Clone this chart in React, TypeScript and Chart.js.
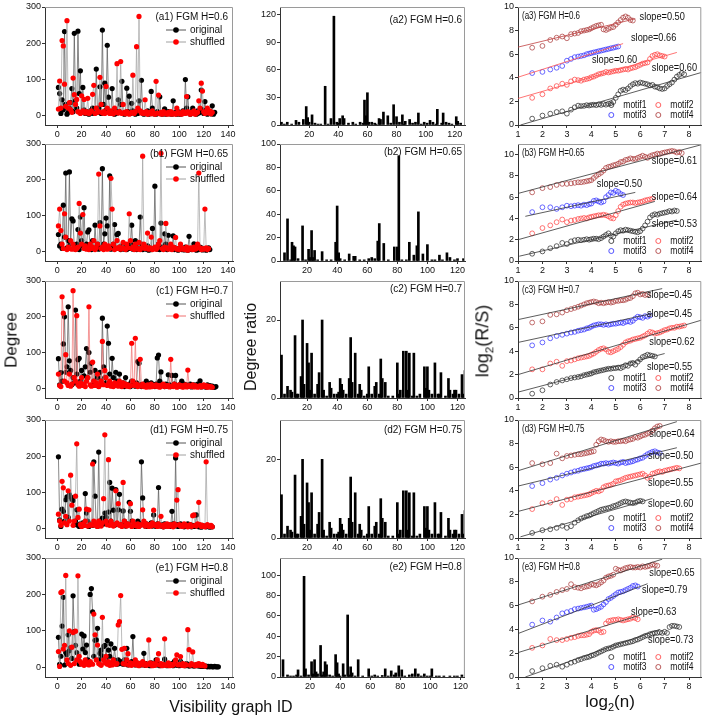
import React, { useEffect, useRef } from "react";
import { Chart, registerables } from "chart.js";
Chart.register(...registerables);

// ---------------- DATA ----------------
// Column 1: degree of each visibility-graph node (ID = index + 1)
const A1_ORIGINAL = [77,60,5,43,15,232,30,3,8,20, 35,74,10,227,40,20,233,60,123,8, 77,15,5,10,8,3,12,6,20,5, 10,128,8,20,79,5,236,30,89,15, 194,50,10,5,74,8,3,12,6,43, 10,30,94,5,3,8,75,10,53,5, 33,12,6,3,8,5,40,10,97,6, 3,8,5,12,3,6,66,20,4,8, 3,10,5,51,6,3,8,18,3,5, 10,4,6,3,40,5,8,3,10,4, 3,6,12,8,99,20,51,6,3,10, 20,5,8,3,12,6,10,70,15,5, 38,8,3,10,6,4,26,3,8];
const A1_SHUFFLED = [17,95,20,207,192,86,25,262,20,35, 15,8,103,57,30,44,10,8,5,54, 12,44,6,10,47,5,8,12,58,83, 5,20,8,10,105,30,6,10,5,80, 20,8,5,12,6,4,20,8,143,6, 10,149,5,30,8,4,10,5,3,6, 8,111,5,10,190,20,274,12,6,8, 5,43,10,3,6,8,4,12,5,3, 94,6,56,4,8,3,10,5,6,3, 8,4,10,3,6,5,3,20,8,4, 6,3,10,8,5,52,10,6,3,8, 5,12,3,6,8,40,20,89,67,10, 5,8,20,6,12,4,8];
const B1_ORIGINAL = [47,15,20,8,129,40,219,10,30,222, 20,91,85,10,6,20,61,5,96,30, 15,122,8,20,54,60,10,5,30,8, 73,12,20,6,80,10,231,20,49,93, 71,12,211,6,10,20,75,8,47,50, 12,5,8,20,6,10,5,12,8,20, 73,6,10,30,5,8,12,96,20,5, 8,12,6,15,3,10,5,64,8,182, 10,6,20,5,79,12,8,49,20,5, 45,8,12,6,43,5,10,8,3,6, 10,5,8,4,12,6,3,42,8,5, 10,21,6,3,8,5,12,10,4,6, 8,3,5,10,5];
const B1_SHUFFLED = [71,118,58,20,8,105,40,5,12,8, 30,6,20,10,5,8,12,134,51,20, 103,8,15,6,10,5,20,8,12,30, 5,10,20,216,71,8,12,5,20,10, 6,15,8,204,118,20,5,10,30,8, 12,6,10,25,8,5,20,10,105,30, 8,12,5,20,10,6,25,5,10,266, 20,8,12,51,6,10,40,5,8,12, 6,10,20,30,274,8,5,12,78,10, 6,8,20,5,12,10,39,6,8,5, 20,10,6,8,5,12,3,6,10,8, 5,12,6,8,20,219,10,5,8,6, 118,10,5,8];
const C1_ORIGINAL = [83,10,44,20,124,200,45,60,228,77, 50,10,30,15,219,40,80,84,20,50, 10,35,60,111,30,100,45,70,8,20, 50,12,30,6,45,20,196,60,30,15, 174,126,40,10,84,30,12,45,20,8, 40,12,6,15,5,30,10,8,12,5, 20,8,10,6,15,75,70,10,5,8, 12,6,20,10,5,8,15,6,10,5, 12,85,93,20,46,8,10,5,12,6, 38,10,5,36,8,12,36,6,5,10, 8,20,5,12,6,10,5,8,12,4, 6,10,5,8,12,6,21,4,8,5, 6,3,10,5,8,4,6,3,3,5];
const C1_SHUFFLED = [40,8,5,256,210,20,94,15,8,40, 6,12,273,30,20,203,10,6,15,30, 8,12,5,20,30,228,10,6,73,20, 8,15,40,5,10,20,131,10,50,30, 8,12,20,6,10,5,15,8,12,6, 20,10,5,15,8,12,6,10,5,8, 126,20,8,140,12,5,8,81,6,12, 5,8,3,10,6,4,12,5,8,6, 10,5,8,3,6,10,12,5,8,6, 8,4,81,6,5,12,8,3,6,10, 5,8,3,6,10,4,51,8,5,6, 10,4,8,6,3,5,8,4,6,10, 5,8,3,6,4,5,3];
const D1_ORIGINAL = [198,23,5,53,47,20,79,87,30,93, 87,81,77,10,20,51,8,5,12,6, 15,8,96,42,20,5,10,12,8,184, 89,10,5,211,20,8,28,12,42,30, 15,45,127,20,111,50,8,107,12,51, 94,10,8,48,20,6,12,10,72,47, 20,12,8,5,10,20,6,12,184,84, 10,6,12,5,10,8,15,6,37,10, 5,12,113,8,6,10,4,12,6,8, 10,5,8,47,12,6,195,10,5,8, 12,6,10,4,8,5,12,6,10,4, 8,5,6,37,10,4,6,3,8,5, 6,4,8,5,3,6,4];
const D1_SHUFFLED = [39,20,8,130,112,15,33,10,104,20, 147,64,8,20,89,234,30,53,10,5, 12,8,20,53,6,51,10,8,178,20, 8,12,5,20,10,6,15,82,259,20, 10,190,8,20,12,6,10,104,15,68, 8,10,5,127,20,8,6,12,10,68, 5,20,8,10,6,12,5,8,10,51, 20,6,12,8,5,10,6,15,50,8, 10,5,12,6,33,8,4,10,6,12, 5,8,10,6,4,12,8,78,107,10, 6,8,5,12,10,6,4,8,10,5, 35,37,8,6,12,72,10,5,8,6, 4,184,10,6,5,8,4];
const E1_ORIGINAL = [82,8,30,113,192,6,40,35,89,45, 54,24,196,98,60,40,20,8,12,91, 50,86,40,61,20,10,200,216,152,30, 74,75,107,20,38,47,30,57,60,20, 73,47,30,64,12,20,52,17,8,20, 10,15,12,8,20,10,52,6,12,8, 15,84,10,6,12,8,5,10,6,8, 38,5,10,6,8,4,12,6,5,8, 20,6,10,4,8,5,6,22,10,4, 8,5,6,10,4,16,8,5,6,4, 16,8,5,6,4,10,5,3,6,4, 5,3,6,4,8,3,5,2,4,3, 2,3,1,2,1,2,1,1,2,1,1,1];
const E1_SHUFFLED = [43,2,205,208,50,60,252,20,10,100, 5,55,95,10,99,20,251,30,15,8, 10,5,20,8,12,6,15,10,8,146, 89,20,61,10,8,5,137,20,12,30, 8,15,5,10,6,20,12,8,10,116, 125,197,49,10,52,8,20,37,6,12, 5,10,8,20,6,12,4,10,8,15, 6,10,5,8,75,12,6,4,10,5, 8,20,37,6,10,4,8,78,5,6, 12,4,8,5,6,10,20,34,6,8, 29,5,10,4,8,6,103,48,5,10, 42,6,4,8,5,10,6,4,8,5, 3];

// Column 2: degree ratio bars (ID, ratio)
const A2_ID = [1,3,5,8,11,13,16,18,19,20,22,24,26,28,31,33,35,37,39,40,41,43,44,47,50,52,55,57,58,59,60,61,63,65,66,68,69,71,74,76,78,80,82,84,85,86,89,91,93,95,97,99,101,103,105,107,108,111,112,114,116,118,121,122,124];
const A2_RATIO = [3,1,3,1,5,3,6,20,8,3,11,2,1,1,42,1,7,118,3,2,7,10,7,2,3,1,3,2,27,10,35,3,3,2,1,7,6,14,10,2,22,9,3,11,1,4,6,2,3,13,1,3,2,5,3,1,17,2,13,3,2,1,9,4,2];
const B2_ID = [5,7,9,10,11,12,14,17,19,21,22,23,24,25,27,30,33,36,39,40,41,42,45,48,51,52,55,58,61,63,65,67,68,71,74,78,80,81,83,86,88,91,93,94,97,100,103,105,108,110,113,115,118,120,124];
const B2_RATIO = [7,36,1,16,13,12,2,30,1,10,3,26,3,9,1,8,1,1,16,47,7,2,1,6,4,4,1,1,2,3,2,17,32,15,1,12,12,90,1,1,16,5,13,42,6,14,1,1,5,1,7,3,1,2,2];
const C2_ID = [3,5,7,9,10,12,13,14,16,17,18,20,21,22,23,25,27,28,30,31,33,35,36,38,40,41,42,43,44,46,48,49,50,52,54,55,56,58,60,61,63,65,66,68,69,70,72,74,77,80,81,82,84,86,87,88,90,91,93,95,98,99,100,101,103,105,107,108,109,112,114,115,117,118,119,121,123,124,125];
const C2_RATIO = [11,1,3,2,1.5,16,1,1,5.5,20,3.5,14,9,2,11.5,1,3.5,6.5,20,2,0.5,4,2.5,1,1,1.5,5,3.5,2,1,5,15.5,4,11.5,1,3.5,2,0.5,1,8,1,3,4,1,10,5,4,0.5,0.5,9,1,2,12,12,2,11.5,0.5,11.5,0.5,1,8,2.5,8,2,1,9,1,1,6.5,0.5,5,2,1,2,2,1,6,1,7];
const D2_ID = C2_ID;
const D2_RATIO = C2_RATIO;
const E2_ID = [2,5,7,9,11,12,14,16,17,19,21,22,23,24,25,27,28,29,30,31,33,35,37,38,39,40,42,43,45,46,47,48,50,52,55,59,61,63,65,68,70,72,74,76,77,79,81,83,86,88,90,92,94,96,98,100,101,104,106,109,113,116,118,121];
const E2_RATIO = [17,2,1,1,2,7,1,99,8,2,15,3,17,5,3,31,2,5,15,12,2,1,22,14,3,1,13,2,61,2,10,4,1,17,1,8,1,2,1,1.5,8,1,6,2,4,11,7,1,2,3,8,3,1,3,1,1,8,1,1,1,1,1,1,2];

// Column 3: log2(n) grid and log2(R/S) of each motif
const G = [1.58,2,2.32,2.58,2.81,3,3.17,3.32,3.46,3.58,3.7,3.81,3.91,4,4.1,4.2,4.3,4.4,4.5,4.6,4.7,4.8,4.9,5,5.1,5.2,5.3,5.4,5.5,5.6,5.7,5.8,5.9,6,6.1,6.2,6.3,6.4,6.5,6.6,6.7,6.8,6.9,7,7.1,7.2,7.3,7.4,7.5,7.6,7.7,7.8];
const A3_M1 = [0.54,0.8,0.96,1.1,1.16,0.96,1.3,1.5,1.64,1.6,1.62,1.68,1.65, 1.7,1.72,1.68,1.75,1.7,1.78,1.72,1.8,1.85,1.95, 2.3,2.6,2.9,3.0,2.95,3.1,3.3,3.45,3.55,3.5, 3.6,3.55,3.5,3.45,3.35,3.4,3.25,3.2,3.1,3.05, 3.1,3.3,3.45,3.6,3.85,4.1,4.25,4.4,4.3];
const A3_M2 = [2.3,2.6,3.1,3.3,3.5,3.4,3.7,3.85,3.8,3.75,3.85,3.9,3.95, 4.05,4.1,4.2,4.3,4.35,4.4,4.5,4.45,4.5,4.55, 4.6,4.6,4.65,4.7,4.75,4.7,4.8,4.85,4.9,5.0, 5.1,5.2,5.25,5.3,5.6,5.85,5.95,6.0,5.9,5.85, 5.8];
const A3_M3 = [4.4,4.5,4.7,4.85,5.0,5.45,5.6,5.75,5.8,5.85,5.9,6.0,6.05, 6.1,6.15,6.2,6.25,6.3,6.35,6.4,6.45,6.5,6.55, 6.6,6.65];
const A3_M4 = [6.55,6.7,7.2,7.4,7.5,7.35,7.7,7.75,7.8,7.95,8.0,8.05,8.1, 8.2,8.3,8.4,8.45,8.5,8.1,8.05,8.15,8.25,8.3, 8.5,8.7,8.9,9.1,9.2,9.1,8.9,8.85];
const B3_M1 = [0.68,0.9,1.2,1.4,1.7,1.6,1.85,1.95,2.0,1.95,2.0,2.05,2.0, 2.05,2.1,2.1,2.05,2.15,2.3,2.45,2.6,2.4,2.3, 2.6,2.8,2.9,2.85,2.95,2.9,2.85,2.8,2.75,2.7, 2.8,3.05,3.35,3.7,4.1,4.3,4.4,4.35,4.45,4.5, 4.55,4.6,4.7,4.65,4.75,4.7];
const B3_M2 = [2.6,3.1,3.35,3.65,3.9,3.65,3.8,3.85,3.95,4.0,4.05,4.0,4.1, 4.15,4.2,4.25,4.3,4.3,4.35,4.3,4.2,4.05,4.0, 4.3,4.7,5.1,5.3,5.4,5.45,5.5,5.5,5.45,5.5, 5.55,5.6,5.7,5.75,5.8,5.85];
const B3_M3 = [4.6,5.05,5.05,4.9,5.05,5.2,5.15,5.2,5.25,5.2,5.3,5.25,5.35, 5.4,5.65,5.7,5.6,5.5,5.6,6.0,6.2,6.45,6.4, 6.6,6.5,6.3,6.2];
const B3_M4 = [6.45,6.85,6.95,7.15,7.25,7.25,7.3,7.35,7.4,7.4,7.45,7.5,7.55, 7.6,7.8,8.0,8.15,8.3,8.5,8.75,8.85,8.9,9.0, 9.05,9.15,9.3,9.35,9.5,9.55,9.65,9.6,9.6,9.7, 9.8,9.9,9.8,9.7,9.85,9.95,10.0,10.1,10.05,10.15, 10.2,10.25,10.3,10.35,10.3,10.2,10.25,10.15];
const C3_M1 = [0.37,0.66,1.15,1.37,1.5,1.6,1.7,1.75,1.8,1.85,1.95,2.0,2.05, 2.1,2.2,2.25,2.3,2.35,2.4,2.45,2.5,2.5,2.55, 2.55,2.6,2.55,2.65,2.8,2.75,2.95,3.0,2.85,3.1, 3.3,3.5,3.6,3.7,3.65,3.6,3.55];
const C3_M2 = [2.45,2.45,2.95,3.1,2.75,3.15,3.2,3.3,3.4,3.45,3.5,3.55,3.6, 3.7,3.8,3.95,4.1,4.2,4.25,4.15,3.95,3.9,4.0, 4.1,4.2,4.35,4.55,4.75,4.85,4.9,5.0,5.05,5.1, 5.15,5.25,5.35,5.5,5.65,5.6,5.5,5.55,5.6,5.7, 5.8,5.85,5.95,6.0,6.0,6.1,6.1,6.15,6.2];
const C3_M3 = [4.5,4.75,5.1,5.3,5.4,5.5,5.6,5.65,5.75,5.8,5.85,5.95,6.0, 6.1,6.2,6.25,6.3,6.3,6.25,6.3,6.25,6.3,6.35, 6.35,6.4,6.45,6.4,6.5,6.55,6.5,6.6,6.8,6.95, 6.9,6.85,7.0,6.95,7.05];
const C3_M4 = [6.45,6.55,7.1,7.15,7.3,7.5,7.6,7.7,7.8,7.9,8.0,8.1,8.15, 8.2,8.25,8.2,8.1,8.15,8.1,8.15,8.2,8.15,8.2, 8.3,8.3,8.35,8.35,8.4,8.5,8.55,8.7,8.95,9.0, 8.85,8.9,8.8,8.85];
const D3_M1 = [0.43,0.66,0.74,0.86,1.03,0.86,1.0,1.3,1.5,1.65,1.75,1.85,1.9, 2.0,2.1,2.2,2.3,2.4,2.45,2.5,2.55,2.6,2.7, 2.75,2.85,2.95,3.05,3.1,3.05,3.0,2.95,3.0,3.1, 3.15,3.1];
const D3_M2 = [2.45,2.95,3.0,3.3,2.8,3.25,3.3,3.45,3.5,3.55,3.6,3.65,3.7, 3.8,3.9,4.0,3.95,4.05,4.3,4.4,4.45,4.5,4.6, 4.8,4.85,4.9,5.0,5.1,5.15,5.2,5.25,5.3,5.35, 5.4,5.45,5.3,5.1,5.2,5.45,5.5,5.6,5.65,5.6, 5.7,5.75,5.8,5.85,5.9,5.95,5.9];
const D3_M3 = [4.4,4.65,4.95,5.1,5.3,5.45,5.55,5.65,5.7,5.8,5.85,5.9,5.95, 6.0,6.1,6.15,6.2,6.3,6.3,6.35,6.3,6.35,6.4, 6.35,6.3,6.4,6.45,6.35,6.4,6.45,6.5,6.6,6.65, 6.75,6.8,6.95,7.1,7.2,7.3,7.35,7.25,7.2];
const D3_M4 = [6.35,6.25,6.35,7.15,6.75,6.95,7.0,7.05,7.1,7.1,7.15,7.2,7.25, 7.3,7.35,7.9,8.2,8.35,8.3,8.2,8.15,8.2,8.15, 8.15,8.2,8.2,8.25,8.2,8.3,8.35,8.4,8.55,8.5, 8.6,8.7,8.75,8.85,8.95,9.1,9.3,9.45,9.5];
const E3_M1 = [0.5,0.74,0.94,1.03,0.86,1.03,1.2,1.3,1.43,1.5,1.6,1.65,1.7, 1.8,1.85,1.95,2.05,2.15,2.25,2.35,2.4,2.45,2.55, 2.65,2.7,2.75,2.8,2.85,2.9,2.95,3.0,3.1,3.15, 3.25,3.35,3.45,3.5,3.6,3.65,3.7,3.7,3.75,3.7, 3.8,3.7,4.2,4.3,4.3,4.25,4.2];
const E3_M2 = [2.45,2.65,3.2,3.1,3.1,3.2,3.3,3.35,3.45,3.5,3.5,3.55,3.6, 3.8,3.9,3.95,3.9,3.75,3.8,4.5,4.7,4.75,4.8, 4.8,4.85,4.8,4.75,4.8,4.85,4.9,5.0,4.95,4.85];
const E3_M3 = [4.4,4.75,4.65,5.0,5.35,5.45,5.55,5.7,5.75,5.8,5.85,5.9,5.95, 6.0,5.65,5.7,5.8,5.9,6.1,6.3,6.55,6.65,6.8, 6.95,7.1,7.15,7.2,7.3,7.4,7.5,7.65,7.7,7.6];
const E3_M4 = [6.35,6.75,6.9,7.15,7.3,7.4,7.8,7.55,7.5,7.45,7.55,7.6,7.65, 7.8,7.75,7.7,7.8,7.95,8.1,8.35,8.45,8.5,8.6, 9.1,9.0,8.95,9.05,9.15,9.2,9.25,9.2,9.2,9.25, 9.2,9.3,9.25,9.3,9.35,9.45,9.4,9.35];

// fitted lines [x0, y0, x1, y1] for motif1..motif4, and their slopes
const A3_FITS = [[1.1,0,8.5,4.45],[1,2.25,7.5,6.15],[1,4.05,5.3,6.9],[1,6.6,5.8,9.0]];
const B3_FITS = [[1.05,0.45,7.5,3.85],[1,2.0,6.6,5.6],[1.3,4.2,5.8,6.45],[1,6.35,8.5,10.93]];
const C3_FITS = [[1,0.5,7,3.8],[1,2.0,8.5,6.65],[1,4.75,6.5,7.22],[1,6.7,6.9,9.35]];
const D3_FITS = [[1.1,0.1,6.5,3.35],[1,2.25,8.5,6.35],[1,4.4,7.5,7.65],[1,5.7,7.5,9.86]];
const E3_FITS = [[1.3,0,6.8,4.0],[1,2.05,6,5.2],[1,3.65,6.3,7.84],[1,6.05,6.9,9.9]];
const A3_SLOPES = ["0.60","0.60","0.66","0.50"];
const B3_SLOPES = ["0.53","0.64","0.50","0.61"];
const C3_SLOPES = ["0.55","0.62","0.45","0.45"];
const D3_SLOPES = ["0.60","0.55","0.50","0.64"];
const E3_SLOPES = ["0.73","0.63","0.79","0.65"];

// tick labels
const X1_TICKS = [0,20,40,60,80,100,120,140];
const Y1_TICKS = [0,100,200,300];
const X2_TICKS = [20,40,60,80,100,120];
const A2_YTICKS = [0,30,60,90,120];
const B2_YTICKS = [0,20,40,60,80,100];
const C2_YTICKS = [0,20];
const E2_YTICKS = [0,20,40,60,80,100];
const X3_TICKS = [1,2,3,4,5,6,7,8];
const Y3_TICKS = [0,2,4,6,8,10];

// ---------------- LAYOUT / STYLE ----------------
const FONT = "'Liberation Sans', Arial, Helvetica, sans-serif";
const YW = 40, XH = 22, PT = 8, PR = 4;
const COLS = [{ l: 45, r: 233 }, { l: 280, r: 465 }, { l: 518, r: 702 }];
const ROWS = [{ t: 7, b: 125 }, { t: 144, b: 261 }, { t: 281, b: 398 }, { t: 420, b: 538 }, { t: 558, b: 677 }];

const SLOPE_POS = [
  [[7.4, 4.8], [4.95, 5.45], [6.55, 7.35], [6.9, 9.1]],
  [[7.4, 3.45], [7.4, 6.0], [5.15, 7.2], [7.4, 9.4]],
  [[7.2, 2.65], [7.3, 4.75], [7.2, 7.2], [7.2, 8.75]],
  [[7.25, 2.85], [7.25, 4.65], [7.25, 6.95], [7.3, 8.8]],
  [[7.25, 3.1], [6.55, 5.4], [7.0, 7.3], [7.3, 8.75]],
];
const MOTIF_COLORS = ["#222222", "#ff3b3b", "#2b2bff", "#a83232"];

type Item = { kind?: string; text?: string; ref: string; x: number; y: number; align?: string; size?: number; color?: string; lineColor?: string; sx?: number };

function textPlugin(items: Item[]) {
  return {
    id: "panelText",
    afterDraw(chart: any) {
      const { ctx, chartArea: a, scales } = chart;
      ctx.save();
      ctx.strokeStyle = "#9a9a9a";
      ctx.lineWidth = 1;
      ctx.beginPath();
      ctx.moveTo(a.left, a.top + 0.5);
      ctx.lineTo(a.right - 0.5, a.top + 0.5);
      ctx.lineTo(a.right - 0.5, a.bottom);
      ctx.stroke();
      for (const it of items) {
        let x: number, y: number;
        if (it.ref === "data") {
          x = scales.x.getPixelForValue(it.x);
          y = scales.y.getPixelForValue(it.y);
        } else {
          x = it.ref[1] === "r" ? a.right - it.x : a.left + it.x;
          y = it.ref[0] === "b" ? a.bottom - it.y : a.top + it.y;
        }
        if (it.kind === "line") {
          ctx.strokeStyle = it.lineColor || "#555";
          ctx.lineWidth = 1;
          ctx.beginPath();
          ctx.moveTo(x - 10, y);
          ctx.lineTo(x + 10, y);
          ctx.stroke();
          ctx.beginPath();
          ctx.arc(x, y, 2.8, 0, Math.PI * 2);
          ctx.fillStyle = it.color || "#000";
          ctx.fill();
        } else if (it.kind === "circle") {
          ctx.beginPath();
          ctx.arc(x, y, 2.5, 0, Math.PI * 2);
          ctx.strokeStyle = it.color || "#000";
          ctx.lineWidth = 0.8;
          ctx.stroke();
        } else {
          const sx = it.sx || 1;
          ctx.save();
          ctx.translate(x, y);
          ctx.scale(sx, 1);
          ctx.font = `${it.size || 10}px ${FONT}`;
          ctx.fillStyle = it.color || "#111";
          ctx.textAlign = (it.align as CanvasTextAlign) || "left";
          ctx.textBaseline = "middle";
          ctx.fillText(it.text || "", 0, 0);
          ctx.restore();
        }
      }
      ctx.restore();
    },
  };
}

function axis(min: number, max: number, ticks: number[], isX: boolean) {
  return {
    type: "linear",
    min,
    max,
    offset: false,
    afterBuildTicks: (s: any) => {
      s.ticks = ticks.map((v) => ({ value: v }));
    },
    afterFit: (s: any) => {
      if (isX) s.height = XH;
      else s.width = YW;
    },
    grid: { display: true, drawOnChartArea: false, drawTicks: true, tickLength: 3, color: "#333", offset: false },
    border: { display: true, color: "#333", width: 1 },
    ticks: {
      font: { size: 9, family: FONT },
      color: "#111",
      padding: 1,
      maxRotation: 0,
      autoSkip: false,
      callback: (v: any) => String(v),
    },
  };
}

function baseOptions(scales: any) {
  return {
    responsive: false,
    maintainAspectRatio: false,
    animation: false,
    devicePixelRatio: 1,
    layout: { padding: { top: PT, right: PR, left: 0, bottom: 0 } },
    plugins: { legend: { display: false }, tooltip: { enabled: false }, title: { display: false } },
    events: [],
    scales,
  };
}

const toXY = (vals: number[]) => vals.map((v, i) => ({ x: i + 1, y: v }));

function degreeChart(orig: number[], shuf: number[], title: string, redLine: boolean) {
  const shufLine = redLine ? "#f07070" : "#a0a0a0";
  const items: Item[] = [
    { text: title, ref: "tr", x: 5, y: 10, align: "right" },
    { kind: "line", ref: "tr", x: 57, y: 23, color: "#000", lineColor: "#555" },
    { text: "original", ref: "tr", x: 43, y: 23 },
    { kind: "line", ref: "tr", x: 57, y: 35, color: "#ff0000", lineColor: shufLine },
    { text: "shuffled", ref: "tr", x: 43, y: 35 },
  ];
  return {
    type: "line",
    data: {
      datasets: [
        { data: toXY(shuf), borderColor: shufLine, borderWidth: 0.7, pointRadius: 2.6, pointBackgroundColor: "#ff0000", pointBorderWidth: 0 },
        { data: toXY(orig), borderColor: "#555", borderWidth: 0.7, pointRadius: 2.6, pointBackgroundColor: "#000", pointBorderWidth: 0 },
      ],
    },
    options: baseOptions({ x: axis(-10, 144, X1_TICKS, true), y: axis(-27, 300, Y1_TICKS, false) }),
    plugins: [textPlugin(items)],
  };
}

function ratioChart(ids: number[], vals: number[], title: string, xmin: number, xmax: number, ymax: number, yticks: number[], titleY: number) {
  const items: Item[] = [{ text: title, ref: "tr", x: 3, y: titleY, align: "right" }];
  return {
    type: "bar",
    data: {
      datasets: [{ data: ids.map((x, i) => ({ x, y: vals[i] })), backgroundColor: "#000", borderWidth: 0, barThickness: 2 }],
    },
    options: baseOptions({ x: axis(xmin, xmax, X2_TICKS, true), y: axis(0, ymax, yticks, false) }),
    plugins: [textPlugin(items)],
  };
}

function hurstChart(motifs: number[][], fits: number[][], slopes: string[], pos: number[][], title: string, ymax: number, fitColors: string[]) {
  const items: Item[] = [{ text: title, ref: "tl", x: 4, y: 9, sx: 0.8 }];
  slopes.forEach((s, i) => items.push({ text: "slope=" + s, ref: "data", x: pos[i][0], y: pos[i][1], align: "center", sx: 0.92 }));
  const leg = [
    { x: 90, y: 20 }, { x: 43, y: 20 }, { x: 90, y: 10 }, { x: 43, y: 10 },
  ];
  leg.forEach((p, i) => {
    items.push({ kind: "circle", ref: "br", x: p.x, y: p.y, color: MOTIF_COLORS[i] });
    items.push({ text: "motif" + (i + 1), ref: "br", x: p.x - 12, y: p.y, sx: 0.85 });
  });
  const lineSets = fits.map((f, i) => ({
    data: [{ x: f[0], y: f[1] }, { x: f[2], y: f[3] }],
    showLine: true,
    borderColor: fitColors[i],
    borderWidth: 0.8,
    pointRadius: 0,
  }));
  const pointSets = motifs.map((m, i) => ({
    data: m.map((y, j) => ({ x: G[j], y })),
    showLine: false,
    pointRadius: 2.4,
    pointBackgroundColor: "rgba(0,0,0,0)",
    pointBorderColor: MOTIF_COLORS[i],
    pointBorderWidth: 0.7,
  }));
  return {
    type: "scatter",
    data: { datasets: [...lineSets, ...pointSets] },
    options: baseOptions({ x: axis(1, 8.5, X3_TICKS, true), y: axis(0, ymax, Y3_TICKS, false) }),
    plugins: [textPlugin(items)],
  };
}

function Panel({ col, row, build }: { col: number; row: number; build: () => any }) {
  const ref = useRef<HTMLCanvasElement>(null);
  const c = COLS[col];
  const r = ROWS[row];
  const w = YW + (c.r - c.l) + PR;
  const h = PT + (r.b - r.t) + XH;
  useEffect(() => {
    const chart = new Chart(ref.current as HTMLCanvasElement, build());
    return () => chart.destroy();
  }, []);
  return (
    <canvas
      ref={ref}
      width={w}
      height={h}
      style={{ position: "absolute", left: c.l - YW, top: r.t - PT, width: w, height: h }}
    />
  );
}

const BLACK_FITS = ["#333", "#333", "#333", "#333"];
const A3_FIT_COLORS = ["#333", "#ff5050", "#ff5050", "#c04040"];

const PANELS: { col: number; row: number; build: () => any }[] = [
  { col: 0, row: 0, build: () => degreeChart(A1_ORIGINAL, A1_SHUFFLED, "(a1) FGM H=0.6", false) },
  { col: 0, row: 1, build: () => degreeChart(B1_ORIGINAL, B1_SHUFFLED, "(b1) FGM H=0.65", false) },
  { col: 0, row: 2, build: () => degreeChart(C1_ORIGINAL, C1_SHUFFLED, "(c1) FGM H=0.7", true) },
  { col: 0, row: 3, build: () => degreeChart(D1_ORIGINAL, D1_SHUFFLED, "(d1) FGM H=0.75", false) },
  { col: 0, row: 4, build: () => degreeChart(E1_ORIGINAL, E1_SHUFFLED, "(e1) FGM H=0.8", false) },
  { col: 1, row: 0, build: () => ratioChart(A2_ID, A2_RATIO, "(a2) FGM H=0.6", 0, 127, 128, A2_YTICKS, 13) },
  { col: 1, row: 1, build: () => ratioChart(B2_ID, B2_RATIO, "(b2) FGM H=0.65", 2, 125, 100, B2_YTICKS, 8) },
  { col: 1, row: 2, build: () => ratioChart(C2_ID, C2_RATIO, "(c2) FGM H=0.7", 2, 125, 30, C2_YTICKS, 8) },
  { col: 1, row: 3, build: () => ratioChart(D2_ID, D2_RATIO, "(d2) FGM H=0.75", 2, 125, 30, C2_YTICKS, 10) },
  { col: 1, row: 4, build: () => ratioChart(E2_ID, E2_RATIO, "(e2) FGM H=0.8", 0, 123, 117, E2_YTICKS, 9) },
  { col: 2, row: 0, build: () => hurstChart([A3_M1, A3_M2, A3_M3, A3_M4], A3_FITS, A3_SLOPES, SLOPE_POS[0], "(a3) FGM H=0.6", 10, A3_FIT_COLORS) },
  { col: 2, row: 1, build: () => hurstChart([B3_M1, B3_M2, B3_M3, B3_M4], B3_FITS, B3_SLOPES, SLOPE_POS[1], "(b3) FGM H=0.65", 11, BLACK_FITS) },
  { col: 2, row: 2, build: () => hurstChart([C3_M1, C3_M2, C3_M3, C3_M4], C3_FITS, C3_SLOPES, SLOPE_POS[2], "(c3) FGM H=0.7", 10, BLACK_FITS) },
  { col: 2, row: 3, build: () => hurstChart([D3_M1, D3_M2, D3_M3, D3_M4], D3_FITS, D3_SLOPES, SLOPE_POS[3], "(d3) FGM H=0.75", 10, BLACK_FITS) },
  { col: 2, row: 4, build: () => hurstChart([E3_M1, E3_M2, E3_M3, E3_M4], E3_FITS, E3_SLOPES, SLOPE_POS[4], "(e3) FGM H=0.8", 10, BLACK_FITS) },
];

const labelStyle = (x: number, y: number, size: number, rotate: boolean): React.CSSProperties => ({
  position: "absolute",
  left: x,
  top: y,
  transform: `translate(-50%, -50%)${rotate ? " rotate(-90deg)" : ""}`,
  fontFamily: FONT,
  fontSize: size,
  color: "#111",
  whiteSpace: "nowrap",
  lineHeight: 1,
});

export default function App() {
  return (
    <div style={{ position: "absolute", left: 0, top: 0, width: 706, height: 721, background: "#fff", overflow: "hidden" }}>
      {PANELS.map((p, i) => (
        <Panel key={i} col={p.col} row={p.row} build={p.build} />
      ))}
      <div style={labelStyle(11, 340, 17, true)}>Degree</div>
      <div style={labelStyle(251, 347, 16, true)}>Degree ratio</div>
      <div style={labelStyle(484, 341, 18, true)}>
        log<sub style={{ fontSize: "0.65em" }}>2</sub>(R/S)
      </div>
      <div style={labelStyle(231, 707, 16, false)}>Visibility graph ID</div>
      <div style={labelStyle(610, 703, 17, false)}>
        log<sub style={{ fontSize: "0.65em" }}>2</sub>(n)
      </div>
    </div>
  );
}
